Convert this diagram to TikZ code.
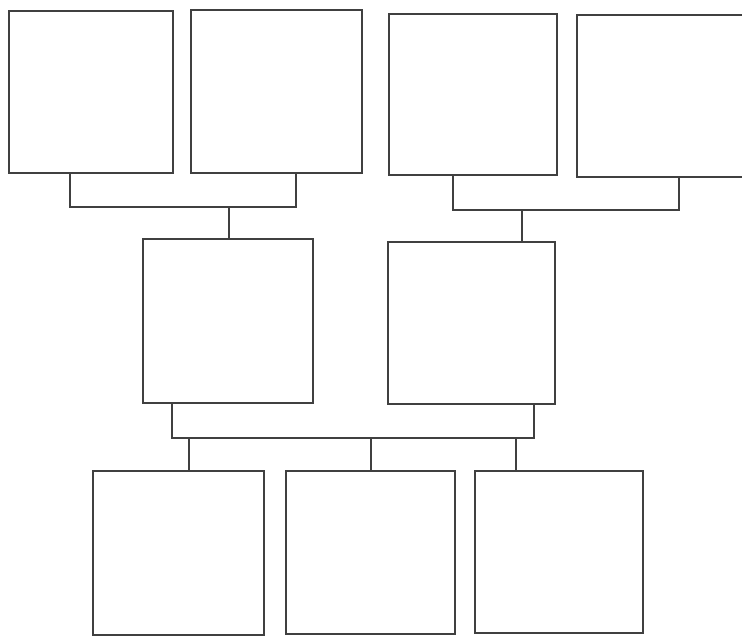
\documentclass[tikz,border=0pt]{standalone}
\usepackage{tikz}
\usetikzlibrary{positioning}
\tikzset{
  famcell/.style={draw=black!75, line width=1pt, fill=white, rectangle, inner sep=0pt, outer sep=0pt, anchor=north west},
  famline/.style={draw=black!75, line width=1pt},
}

\begin{document}
\begin{tikzpicture}[x=0.25mm, y=-0.25mm]
    \useasboundingbox (0,0) rectangle (742,644);
    \clip (0,0) rectangle (742,644);

    % Grandparents, left pair
    \node[famcell, minimum width=41mm, minimum height=40.5mm] (gpaA) at (9,11) {};
    \node[famcell, minimum width=42.75mm, minimum height=40.75mm] (gmaA) at (191,10) {};
    % Grandparents, right pair (last one runs off the page)
    \node[famcell, minimum width=42mm, minimum height=40.25mm] (gpaB) at (389,14) {};
    \node[famcell, minimum width=43.75mm, minimum height=40.5mm] (gmaB) at (577,15) {};

    % Parents
    \node[famcell, minimum width=42.5mm, minimum height=41mm] (dad) at (143,239) {};
    \node[famcell, minimum width=41.75mm, minimum height=40.5mm] (mum) at (388,242) {};

    % Children
    \node[famcell, minimum width=42.75mm, minimum height=41mm] (kidA) at (93,471) {};
    \node[famcell, minimum width=42.25mm, minimum height=40.75mm] (kidB) at (286,471) {};
    \node[famcell, minimum width=42mm, minimum height=40.5mm] (kidC) at (475,471) {};

    % Joints of the brackets
    \coordinate (knotA) at (228.8,207);
    \coordinate (knotB) at (522,210);
    \coordinate (knotC) at (371.2,438);

    % Left grandparents -> dad
    \draw[famline] ([xshift=15.25mm]gpaA.south west) |- (knotA) -| ([xshift=26.25mm]gmaA.south west);
    \draw[famline] (knotA) -- (knotA |- dad.north);

    % Right grandparents -> mum
    \draw[famline] ([xshift=16mm]gpaB.south west) |- (knotB) -| ([xshift=25.5mm]gmaB.south west);
    \draw[famline] (knotB) -- (knotB |- mum.north);

    % Parents -> children
    \draw[famline] ([xshift=7.25mm]dad.south west) |- (knotC) -| ([xshift=36.5mm]mum.south west);
    \draw[famline] ([xshift=24mm]kidA.north west) |- (knotC);
    \draw[famline] (knotC) -- (knotC |- kidB.north);
    \draw[famline] ([xshift=10.25mm]kidC.north west) |- (knotC);
\end{tikzpicture}
\end{document}
